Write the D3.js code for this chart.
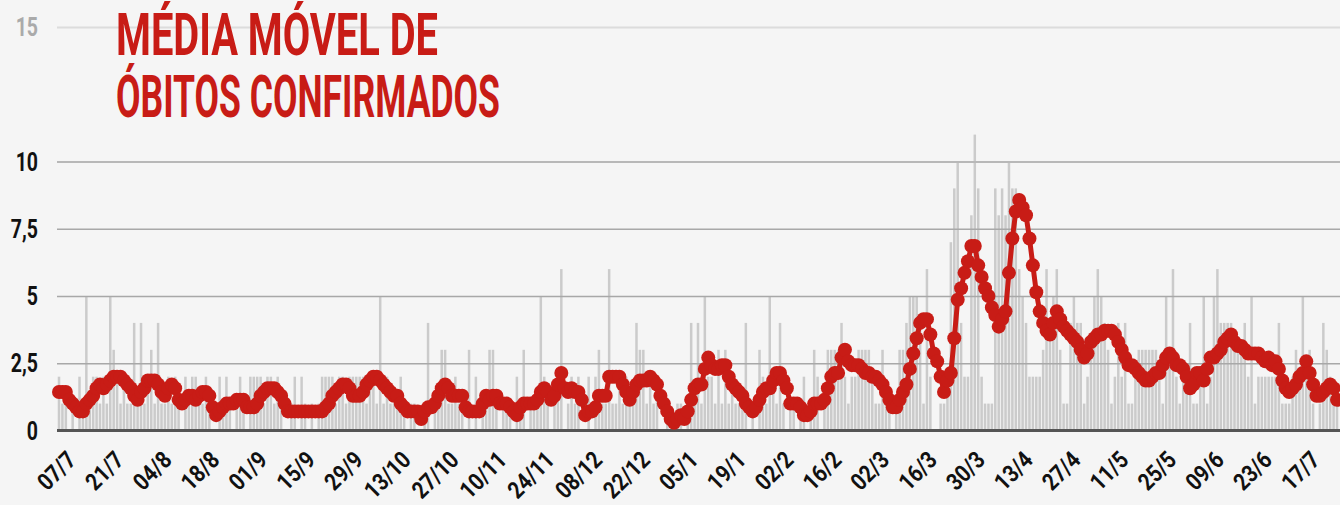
<!DOCTYPE html>
<html>
<head>
<meta charset="utf-8">
<script src="https://cdn.jsdelivr.net/npm/d3@7/dist/d3.min.js"></script>
<style>
  html, body { margin: 0; padding: 0; background: #f5f5f5; }
  svg { display: block; }
</style>
</head>
<body>
<div class="chart"></div>
<script>
// tick labels, one every 14 days
const tickLabels = ["07/7", "21/7", "04/8", "18/8", "01/9", "15/9", "29/9", "13/10", "27/10",
  "10/11", "24/11", "08/12", "22/12", "05/1", "19/1", "02/2", "16/2", "02/3", "16/3", "30/3",
  "13/4", "27/4", "11/5", "25/5", "09/6", "23/6", "17/7"];

const yTicks = [0, 2.5, 5, 7.5, 10, 15];
const yLabels = ["0", "2,5", "5", "7,5", "10", "15"];

const titleLines = ["MÉDIA MÓVEL DE", "ÓBITOS CONFIRMADOS"];

// daily confirmed deaths (gray bars)
const dailyDeaths = [
  2,1,1,0,1,0,2,1,5,1,  2,2,1,2,1,5,3,2,1,2,  1,1,4,1,4,1,2,3,1,4,  1,1,2,1,2,1,0,2,1,2,
  2,1,1,2,1,0,0,2,1,2,  1,0,1,2,1,0,2,2,2,2,  1,2,2,1,2,1,0,0,1,2,  0,2,1,0,1,0,1,2,2,2,
  2,1,2,2,1,2,2,2,2,2,  1,2,2,1,5,1,2,1,1,1,  2,1,0,1,1,0,0,1,4,0,  1,1,3,3,1,1,2,1,1,0,
  3,0,2,0,1,1,3,3,1,0,  1,1,1,0,2,1,3,0,1,1,  1,5,2,1,0,1,2,6,0,1,  2,1,2,0,0,2,0,2,3,1,
  1,6,1,1,2,1,2,1,1,4,  3,3,1,2,1,2,0,0,1,0,  0,1,1,0,1,4,1,4,1,5,  2,2,1,3,1,3,1,2,1,1,
  1,4,0,1,0,3,2,1,5,2,  1,4,1,0,1,1,0,1,2,0,  1,3,2,0,1,3,3,3,3,4,  2,1,2,2,3,3,3,3,2,1,
  1,3,1,1,0,1,3,3,4,5,  5,5,4,1,6,2,0,0,1,1,  2,7,9,10,4,2,2,8,11,9, 2,1,1,1,9,8,9,8,10,9,
  9,6,5,4,2,2,2,2,3,6,  4,5,6,3,1,1,4,5,4,4,  1,2,3,5,6,5,4,3,1,2,  4,2,4,1,1,2,3,3,3,3,
  3,3,2,1,5,3,6,2,1,2,  2,4,1,1,2,5,1,2,5,6,  4,4,4,4,3,3,3,4,2,5,  1,2,2,2,2,2,2,4,1,1,
  1,2,3,2,5,2,3,1,0,1,  4,3,2,1,1
];

// 7-day moving average (red line)
const movingAverage = [
  1.43,1.43,1.43,1.14,1.0,0.86,0.71,0.71,1.0,1.14,
  1.29,1.57,1.71,1.57,1.71,1.86,2.0,2.0,2.0,1.86,
  1.71,1.57,1.29,1.14,1.43,1.57,1.86,1.86,1.86,1.71,
  1.43,1.29,1.57,1.71,1.57,1.14,1.0,1.14,1.29,1.29,
  1.14,1.29,1.43,1.43,1.29,0.86,0.57,0.71,0.86,1.0,
  1.0,1.0,1.14,1.14,1.14,0.86,0.86,0.86,1.0,1.29,
  1.43,1.57,1.57,1.57,1.43,1.29,1.0,0.71,0.71,0.71,
  0.71,0.71,0.71,0.71,0.71,0.71,0.71,0.71,0.86,1.0,
  1.29,1.43,1.57,1.71,1.71,1.57,1.29,1.29,1.29,1.43,
  1.71,1.86,2.0,2.0,1.86,1.71,1.57,1.43,1.29,1.29,
  1.0,0.86,0.71,0.71,0.71,0.71,0.43,0.71,0.86,0.86,
  1.0,1.29,1.57,1.71,1.57,1.29,1.29,1.29,1.29,0.86,
  0.71,0.71,0.71,0.71,1.0,1.29,1.14,1.29,1.29,1.0,
  1.0,1.0,0.86,0.71,0.57,0.86,1.0,1.0,1.0,1.0,
  1.14,1.43,1.57,1.43,1.14,1.29,1.71,2.14,1.57,1.43,
  1.57,1.43,1.43,1.14,0.57,0.71,0.71,0.86,1.29,1.29,
  1.29,2.0,2.0,2.0,2.0,1.71,1.43,1.14,1.43,1.71,
  1.86,1.86,1.86,2.0,1.86,1.71,1.29,1.0,0.71,0.43,
  0.29,0.43,0.57,0.43,0.71,1.14,1.57,1.71,1.71,2.29,
  2.71,2.43,2.29,2.29,2.43,2.43,2.0,1.71,1.57,1.43,
  1.29,1.0,0.86,0.71,0.86,1.14,1.43,1.57,1.57,1.86,
  2.14,2.14,1.86,1.57,1.0,1.0,1.0,0.86,0.57,0.57,
  0.71,1.0,1.0,1.0,1.14,1.57,2.0,2.14,2.14,2.71,
  3.0,2.57,2.43,2.43,2.43,2.29,2.14,2.14,2.0,2.0,
  1.86,1.71,1.43,1.14,0.86,0.86,1.14,1.43,1.71,2.29,
  2.86,3.43,4.0,4.14,4.14,3.57,2.86,2.57,2.0,1.43,
  1.86,2.14,3.43,4.86,5.29,5.86,6.29,6.86,6.86,6.14,
  5.71,5.29,5.0,4.57,4.29,3.86,4.14,4.43,5.86,7.14,
  8.14,8.57,8.29,8.0,7.14,6.14,5.14,4.43,4.0,3.71,
  3.57,4.0,4.43,4.14,3.86,3.71,3.57,3.43,3.29,3.0,
  2.71,2.86,3.29,3.43,3.57,3.57,3.71,3.71,3.71,3.57,
  3.29,3.0,2.71,2.43,2.43,2.29,2.14,2.0,1.86,1.86,
  2.0,2.14,2.14,2.43,2.71,2.86,2.71,2.43,2.43,2.29,
  2.0,1.57,1.71,2.14,2.14,1.86,2.29,2.71,2.71,2.86,
  3.0,3.29,3.43,3.57,3.29,3.14,3.14,3.0,2.86,2.86,
  2.86,2.86,2.71,2.57,2.71,2.43,2.57,2.29,1.86,1.57,
  1.43,1.57,1.71,2.0,2.14,2.57,2.14,1.71,1.29,1.29,
  1.43,1.57,1.71,1.57,1.14
];

const width = 1340;
const height = 505;
const red = "#c81c16";
const font = "Roboto, 'Liberation Sans', sans-serif";
const plotLeft = 57;

const svg = d3.select(".chart").append("svg")
  .attr("width", width)
  .attr("height", height)
  .style("background", "#f5f5f5");

const x = d3.scaleLinear()
  .domain([0, movingAverage.length - 1])
  .range([59, 1337]);

const y = d3.scaleLinear()
  .domain([0, 15])
  .range([430.5, 27]);

// bars
svg.append("g")
  .selectAll("rect")
  .data(dailyDeaths)
  .join("rect")
  .attr("x", (d, i) => x(i) - 1.25)
  .attr("y", d => y(d))
  .attr("width", 2.5)
  .attr("height", d => y(0) - y(d))
  .attr("fill", "#cbcbcb");

// gridlines
const grid = svg.append("g")
  .attr("transform", "translate(" + plotLeft + ",0)")
  .call(d3.axisLeft(y).tickValues(yTicks.filter(v => v > 0)).tickSize(-(width - plotLeft)).tickFormat(""));
grid.select(".domain").remove();
grid.selectAll(".tick line")
  .attr("stroke", d => d === 15 ? "#dcdcdc" : (d === 10 ? "#b8b8b8" : "#a8a8a8"))
  .attr("stroke-width", d => d >= 10 ? 2 : 1.5);

// baseline
svg.append("line")
  .attr("x1", plotLeft).attr("x2", width)
  .attr("y1", y(0)).attr("y2", y(0))
  .attr("stroke", "#555")
  .attr("stroke-width", 3);

// y labels
svg.append("g")
  .selectAll("text")
  .data(yTicks)
  .join("text")
  .attr("transform", d => "translate(38," + (y(d) + 9) + ") scale(0.78,1)")
  .attr("text-anchor", "end")
  .attr("font-family", font)
  .attr("font-weight", 700)
  .attr("font-size", 25)
  .attr("fill", d => d === 15 ? "#aaaaaa" : "#111")
  .text((d, i) => yLabels[i]);

// moving average line
const line = d3.line()
  .x((d, i) => x(i))
  .y(d => y(d));

svg.append("path")
  .datum(movingAverage)
  .attr("fill", "none")
  .attr("stroke", red)
  .attr("stroke-width", 5)
  .attr("stroke-linejoin", "round")
  .attr("d", line);

svg.append("g")
  .selectAll("circle")
  .data(movingAverage)
  .join("circle")
  .attr("cx", (d, i) => x(i))
  .attr("cy", d => y(d))
  .attr("r", 7)
  .attr("fill", red);

// x axis labels
const xAxis = svg.append("g")
  .attr("transform", "translate(0," + y(0) + ")")
  .call(d3.axisBottom(x)
    .tickValues(d3.range(0, tickLabels.length * 14, 14))
    .tickSize(0)
    .tickFormat((d, i) => tickLabels[i]));
xAxis.select(".domain").remove();
xAxis.selectAll(".tick text")
  .attr("x", 0).attr("y", 0).attr("dy", 0)
  .attr("text-anchor", "end")
  .attr("transform", "translate(18,31) rotate(-45) scale(0.85,1)")
  .attr("font-family", font)
  .attr("font-weight", 700)
  .attr("font-size", 24)
  .attr("fill", "#111");

// title
svg.append("g")
  .selectAll("text")
  .data(titleLines)
  .join("text")
  .attr("x", 116)
  .attr("y", (d, i) => i === 0 ? 55 : 117)
  .attr("textLength", (d, i) => i === 0 ? 322 : 384)
  .attr("lengthAdjust", "spacingAndGlyphs")
  .attr("font-family", font)
  .attr("font-weight", 700)
  .attr("font-size", 59)
  .attr("fill", red)
  .text(d => d);
</script>
</body>
</html>
